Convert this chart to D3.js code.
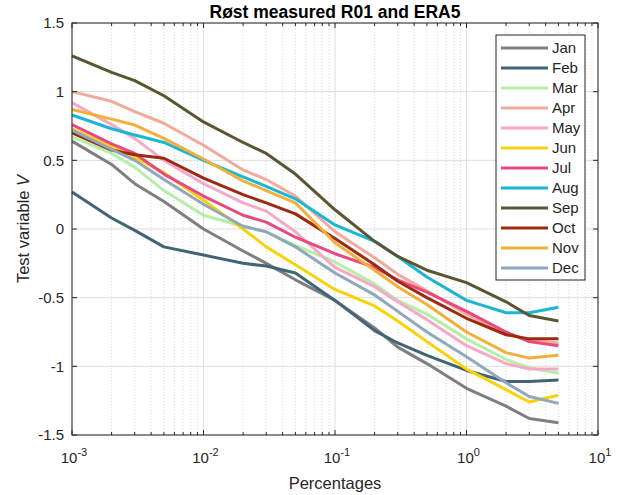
<!DOCTYPE html>
<html>
<head>
<meta charset="utf-8">
<script src="https://cdn.jsdelivr.net/npm/d3@7.9.0/dist/d3.min.js"></script>
<style>
  body { margin: 0; background: #fff; }
  svg { font-family: "Liberation Sans", Arial, sans-serif; }
</style>
</head>
<body>
<svg id="chart" width="625" height="495"></svg>
<script>
// x positions (percentages) shared by every month
const pct = [0.001, 0.002, 0.003, 0.005, 0.01, 0.02, 0.03, 0.05, 0.1, 0.2, 0.3, 0.5, 1, 2, 3, 5];

// test variable V per month
const jan = [0.64, 0.47, 0.33, 0.20, 0.00, -0.16, -0.25, -0.37, -0.52, -0.72, -0.86, -0.98, -1.16, -1.29, -1.38, -1.41];
const feb = [0.27, 0.08, -0.01, -0.13, -0.19, -0.25, -0.27, -0.32, -0.52, -0.74, -0.83, -0.92, -1.03, -1.11, -1.11, -1.10];
const mar = [0.67, 0.55, 0.45, 0.28, 0.10, 0.02, -0.02, -0.12, -0.24, -0.40, -0.52, -0.62, -0.80, -0.95, -1.01, -1.05];
const apr = [1.00, 0.93, 0.855, 0.77, 0.61, 0.43, 0.36, 0.24, -0.02, -0.21, -0.33, -0.45, -0.62, -0.76, -0.81, -0.83];
const may = [0.92, 0.76, 0.66, 0.50, 0.33, 0.19, 0.13, -0.02, -0.28, -0.42, -0.53, -0.66, -0.85, -0.98, -1.02, -1.02];
const jun = [0.73, 0.60, 0.52, 0.41, 0.21, 0.00, -0.13, -0.26, -0.44, -0.56, -0.67, -0.82, -1.02, -1.17, -1.26, -1.21];
const jul = [0.76, 0.62, 0.55, 0.40, 0.24, 0.10, 0.05, -0.06, -0.18, -0.28, -0.37, -0.46, -0.60, -0.75, -0.82, -0.85];
const aug = [0.83, 0.73, 0.685, 0.63, 0.50, 0.38, 0.31, 0.22, 0.03, -0.09, -0.20, -0.35, -0.52, -0.61, -0.61, -0.57];
const sep = [1.26, 1.14, 1.08, 0.97, 0.78, 0.63, 0.55, 0.40, 0.14, -0.09, -0.20, -0.30, -0.39, -0.53, -0.63, -0.67];
const oct = [0.70, 0.575, 0.54, 0.515, 0.37, 0.25, 0.19, 0.11, -0.07, -0.26, -0.38, -0.50, -0.65, -0.77, -0.80, -0.80];
const nov = [0.87, 0.80, 0.757, 0.66, 0.51, 0.35, 0.28, 0.19, -0.10, -0.30, -0.42, -0.55, -0.75, -0.90, -0.94, -0.92];
const dec = [0.72, 0.58, 0.50, 0.36, 0.18, 0.02, -0.02, -0.13, -0.32, -0.48, -0.60, -0.75, -0.93, -1.12, -1.22, -1.27];

const months = ['Jan', 'Feb', 'Mar', 'Apr', 'May', 'Jun', 'Jul', 'Aug', 'Sep', 'Oct', 'Nov', 'Dec'];
const colors = ['#7f7f7f', '#426575', '#b5eea6', '#f2aa9a', '#f5a9c6', '#fad20a',
                '#e9497f', '#1bb6d3', '#5b5632', '#9b2a10', '#f2b03a', '#8fa8bc'];
const yTicks = [-1.5, -1, -0.5, 0, 0.5, 1, 1.5];
const xDecades = [-3, -2, -1, 0, 1];

const series = months.map((m, i) => ({
  name: m,
  color: colors[i],
  values: [jan, feb, mar, apr, may, jun, jul, aug, sep, oct, nov, dec][i]
}));

const svg = d3.select('#chart');
const mLeft = 72, mRight = 598, mTop = 23, mBottom = 435;
const axisColor = '#262626';

const x = d3.scaleLog().domain([1e-3, 1e1]).range([mLeft, mRight]);
const y = d3.scaleLinear().domain([-1.5, 1.5]).range([mBottom, mTop]);

// minor positions 2..9 in each decade
const minor = [];
xDecades.slice(0, -1).forEach(e => {
  for (let k = 2; k <= 9; k++) minor.push(k * Math.pow(10, e));
});
const major = xDecades.map(e => Math.pow(10, e));

// grid
const grid = svg.append('g');
grid.selectAll(null)
  .data(minor)
  .join('line')
  .attr('x1', d => x(d)).attr('x2', d => x(d))
  .attr('y1', mTop).attr('y2', mBottom)
  .attr('stroke', '#d0d0d0')
  .attr('stroke-width', 0.8)
  .attr('stroke-dasharray', '1,2');
grid.selectAll(null)
  .data(major)
  .join('line')
  .attr('x1', d => x(d)).attr('x2', d => x(d))
  .attr('y1', mTop).attr('y2', mBottom)
  .attr('stroke', '#dedede')
  .attr('stroke-width', 1);
grid.selectAll(null)
  .data(yTicks)
  .join('line')
  .attr('x1', mLeft).attr('x2', mRight)
  .attr('y1', d => y(d)).attr('y2', d => y(d))
  .attr('stroke', '#dedede')
  .attr('stroke-width', 1);

// month lines
const line = d3.line()
  .x((d, i) => x(pct[i]))
  .y(d => y(d));

svg.append('g')
  .selectAll('path')
  .data(series)
  .join('path')
  .attr('d', d => line(d.values))
  .attr('fill', 'none')
  .attr('stroke', d => d.color)
  .attr('stroke-width', 3)
  .attr('stroke-linejoin', 'round');

// axes box + ticks (inside, on all four sides)
const ticks = svg.append('g').attr('stroke', axisColor).attr('stroke-width', 1);
[[mBottom, -1], [mTop, 1]].forEach(([yy, dir]) => {
  ticks.selectAll(null).data(major).join('line')
    .attr('x1', d => x(d)).attr('x2', d => x(d))
    .attr('y1', yy).attr('y2', yy + dir * 5);
  ticks.selectAll(null).data(minor).join('line')
    .attr('x1', d => x(d)).attr('x2', d => x(d))
    .attr('y1', yy).attr('y2', yy + dir * 3);
});
[[mLeft, 1], [mRight, -1]].forEach(([xx, dir]) => {
  ticks.selectAll(null).data(yTicks).join('line')
    .attr('x1', xx).attr('x2', xx + dir * 5)
    .attr('y1', d => y(d)).attr('y2', d => y(d));
});
svg.append('rect')
  .attr('x', mLeft).attr('y', mTop)
  .attr('width', mRight - mLeft).attr('height', mBottom - mTop)
  .attr('fill', 'none')
  .attr('stroke', axisColor)
  .attr('stroke-width', 1);

// y tick labels
svg.append('g')
  .selectAll('text')
  .data(yTicks)
  .join('text')
  .attr('x', mLeft - 8)
  .attr('y', d => y(d))
  .attr('dy', '0.35em')
  .attr('text-anchor', 'end')
  .attr('font-size', 15)
  .attr('fill', axisColor)
  .text(d => String(d));

// x tick labels 10^e
const xl = svg.append('g')
  .selectAll('text')
  .data(xDecades)
  .join('text')
  .attr('x', d => x(Math.pow(10, d)) + 2)
  .attr('y', mBottom + 28)
  .attr('text-anchor', 'middle')
  .attr('font-size', 15)
  .attr('fill', axisColor);
xl.append('tspan').text('10');
xl.append('tspan')
  .attr('dy', -7)
  .attr('font-size', 11)
  .text(d => d < 0 ? '-' + (-d) : String(d));

// axis titles
svg.append('text')
  .attr('x', (mLeft + mRight) / 2)
  .attr('y', 489)
  .attr('text-anchor', 'middle')
  .attr('font-size', 16.5)
  .attr('fill', axisColor)
  .text('Percentages');

const yl = svg.append('text')
  .attr('transform', `translate(29, ${(mTop + mBottom) / 2}) rotate(-90)`)
  .attr('text-anchor', 'middle')
  .attr('font-size', 16.5)
  .attr('fill', axisColor);
yl.append('tspan').text('Test variable ');
yl.append('tspan').attr('font-style', 'italic').text('V');

svg.append('text')
  .attr('x', (mLeft + mRight) / 2)
  .attr('y', 18)
  .attr('text-anchor', 'middle')
  .attr('font-size', 17.5)
  .attr('font-weight', 'bold')
  .attr('fill', '#000')
  .text('Røst measured R01 and ERA5');

// legend
const lg = svg.append('g');
lg.append('rect')
  .attr('x', 496).attr('y', 35)
  .attr('width', 89).attr('height', 245)
  .attr('fill', '#fff')
  .attr('stroke', axisColor)
  .attr('stroke-width', 1);
const ly = d3.scalePoint().domain(months).range([48, 268]);
const items = lg.selectAll('g')
  .data(series)
  .join('g')
  .attr('transform', d => `translate(0, ${ly(d.name)})`);
items.append('line')
  .attr('x1', 501).attr('x2', 548)
  .attr('stroke', d => d.color)
  .attr('stroke-width', 3);
items.append('text')
  .attr('x', 552)
  .attr('dy', '0.35em')
  .attr('font-size', 15)
  .attr('fill', axisColor)
  .text(d => d.name);
</script>
</body>
</html>
